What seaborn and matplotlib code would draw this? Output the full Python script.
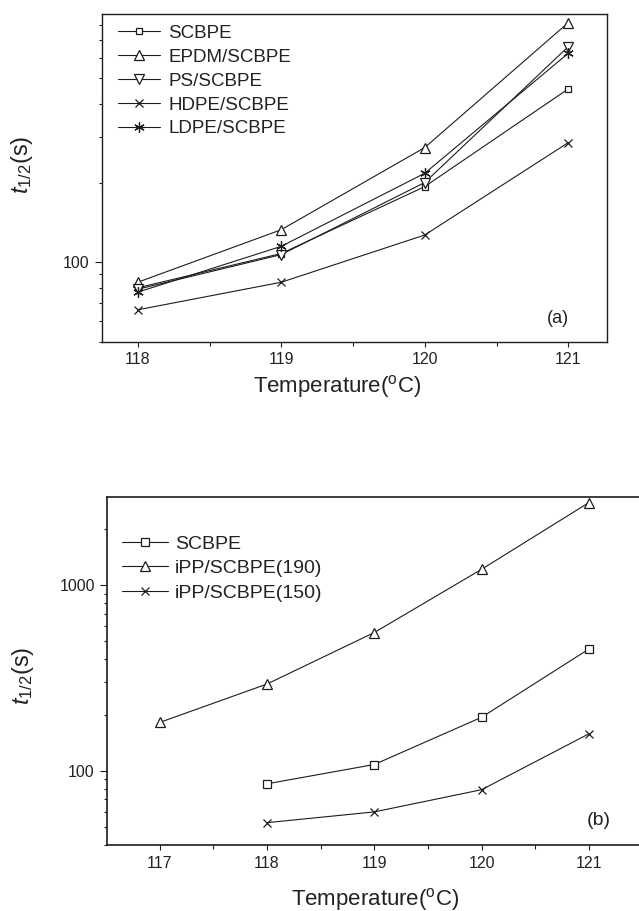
import matplotlib
matplotlib.use("Agg")
import matplotlib.pyplot as plt
import matplotlib.ticker as mticker
import seaborn as sns

# ---------------- data ----------------
temps_a = [118, 119, 120, 121]
scbpe_a = [80, 108, 194, 456]
epdm_a = [84, 133, 273, 814]
ps_a = [79, 107, 201, 660]
hdpe_a = [66, 84, 127, 285]
ldpe_a = [77, 115, 218, 623]
labels_a = ["SCBPE", "EPDM/SCBPE", "PS/SCBPE", "HDPE/SCBPE", "LDPE/SCBPE"]

temps_b_scbpe = [118, 119, 120, 121]
scbpe_b = [85, 108, 194, 452]
temps_b_190 = [117, 118, 119, 120, 121]
ipp190_b = [182, 293, 555, 1216, 2780]
temps_b_150 = [118, 119, 120, 121]
ipp150_b = [52.5, 60, 79, 158]
labels_b = ["SCBPE", "iPP/SCBPE(190)", "iPP/SCBPE(150)"]

xticks_a = [118, 119, 120, 121]
xticks_b = [117, 118, 119, 120, 121]
xlabel = "Temperature($\\mathregular{^{o}}$C)"
ylabel = "$t_{\\mathrm{1/2}}$(s)"

# ---------------- style ----------------
sns.set_style("ticks")
plt.rcParams["font.family"] = ["Liberation Sans", "DejaVu Sans"]
plt.rcParams["mathtext.fontset"] = "custom"
plt.rcParams["mathtext.rm"] = "Liberation Sans"
plt.rcParams["mathtext.it"] = "Liberation Sans:italic"
plt.rcParams["mathtext.bf"] = "Liberation Sans:bold"

INK = "#1c1c1c"
STAR = (6, 2, 0)

fig = plt.figure(figsize=(6.39, 9.11), dpi=100)
ax_a = fig.add_axes([0.1592, 0.6251, 0.7903, 0.3595])
ax_b = fig.add_axes([0.1670, 0.07245, 0.8330, 0.3823])


def draw(ax, x, y, marker, ms):
    sns.lineplot(x=x, y=y, ax=ax, color=INK, linewidth=0.8, marker=marker,
                 markersize=ms, markerfacecolor="white",
                 markeredgecolor=INK, markeredgewidth=0.9,
                 estimator=None, sort=False, legend=False)


def style_axes(ax, xlim, ylim, xticks, lw):
    ax.set_yscale("log")
    ax.set_xlim(*xlim)
    ax.set_ylim(*ylim)
    ax.set_xticks(xticks)
    ax.xaxis.set_minor_locator(mticker.MultipleLocator(0.5))
    ax.yaxis.set_major_locator(mticker.LogLocator(base=10))
    ax.yaxis.set_minor_locator(mticker.LogLocator(base=10, subs=range(2, 10)))
    ax.yaxis.set_major_formatter(mticker.FuncFormatter(lambda v, p: f"{int(round(v))}"))
    ax.yaxis.set_minor_formatter(mticker.NullFormatter())
    ax.xaxis.set_major_formatter(mticker.FuncFormatter(lambda v, p: f"{int(round(v))}"))
    ax.tick_params(axis="both", which="both", direction="out", top=False,
                   right=False, colors=INK, labelcolor="#222222")
    ax.tick_params(axis="x", which="major", length=3.6, width=0.8, pad=4, labelsize=11.5)
    ax.tick_params(axis="x", which="minor", length=2.6, width=0.8)
    ax.tick_params(axis="y", which="major", length=5, width=0.8, pad=3.6, labelsize=11.5)
    ax.tick_params(axis="y", which="minor", length=2.5, width=0.8)
    for s in ax.spines.values():
        s.set_color(INK)
        s.set_linewidth(lw)
    ax.grid(False)


# ---------------- panel (a) ----------------
series_a = [scbpe_a, epdm_a, ps_a, hdpe_a, ldpe_a]
markers_a = ["s", "^", "v", "x", STAR]
sizes_a = [5.0, 7.2, 7.2, 6.0, 7.5]
for ys, mk, ms in zip(series_a, markers_a, sizes_a):
    draw(ax_a, temps_a, ys, mk, ms)
style_axes(ax_a, (117.749, 121.268), (50.0, 878), xticks_a, 1.0)
ax_a.legend(ax_a.get_lines(), labels_a, loc="upper left",
            bbox_to_anchor=(0.0323, 0.967), frameon=False, borderpad=0,
            borderaxespad=0, handlelength=2.24, handletextpad=0.43,
            labelspacing=0.36, fontsize=13.5, labelcolor="#222222")
ax_a.set_xlabel(xlabel, fontsize=16, color="#222222")
ax_a.set_ylabel(ylabel, fontsize=17, color="#222222")
ax_a.xaxis.set_label_coords(0.467, -0.138)
ax_a.yaxis.set_label_coords(-0.157, 0.539)
ax_a.xaxis.label.set_va("center")
ax_a.yaxis.label.set_va("center")
ax_a.text(0.9036, 0.0718, "(a)", transform=ax_a.transAxes, ha="center",
          va="center", fontsize=13, color="#222222")

# ---------------- panel (b) ----------------
draw(ax_b, temps_b_scbpe, scbpe_b, "s", 5.5)
draw(ax_b, temps_b_190, ipp190_b, "^", 7.5)
draw(ax_b, temps_b_150, ipp150_b, "x", 6.0)
style_axes(ax_b, (116.506, 121.467), (39.8, 2990), xticks_b, 1.2)
ax_b.spines["right"].set_visible(False)
ax_b.legend(ax_b.get_lines(), labels_b, loc="upper left",
            bbox_to_anchor=(0.0282, 0.8895), frameon=False, borderpad=0,
            borderaxespad=0, handlelength=2.37, handletextpad=0.36,
            labelspacing=0.35, fontsize=14, labelcolor="#222222")
ax_b.set_xlabel(xlabel, fontsize=16, color="#222222")
ax_b.set_ylabel(ylabel, fontsize=17, color="#222222")
ax_b.xaxis.set_label_coords(0.504, -0.156)
ax_b.yaxis.set_label_coords(-0.158, 0.485)
ax_b.xaxis.label.set_va("center")
ax_b.yaxis.label.set_va("center")
ax_b.text(0.925, 0.069, "(b)", transform=ax_b.transAxes, ha="center",
          va="center", fontsize=14, color="#222222")

fig.savefig("out.png", dpi=100)
